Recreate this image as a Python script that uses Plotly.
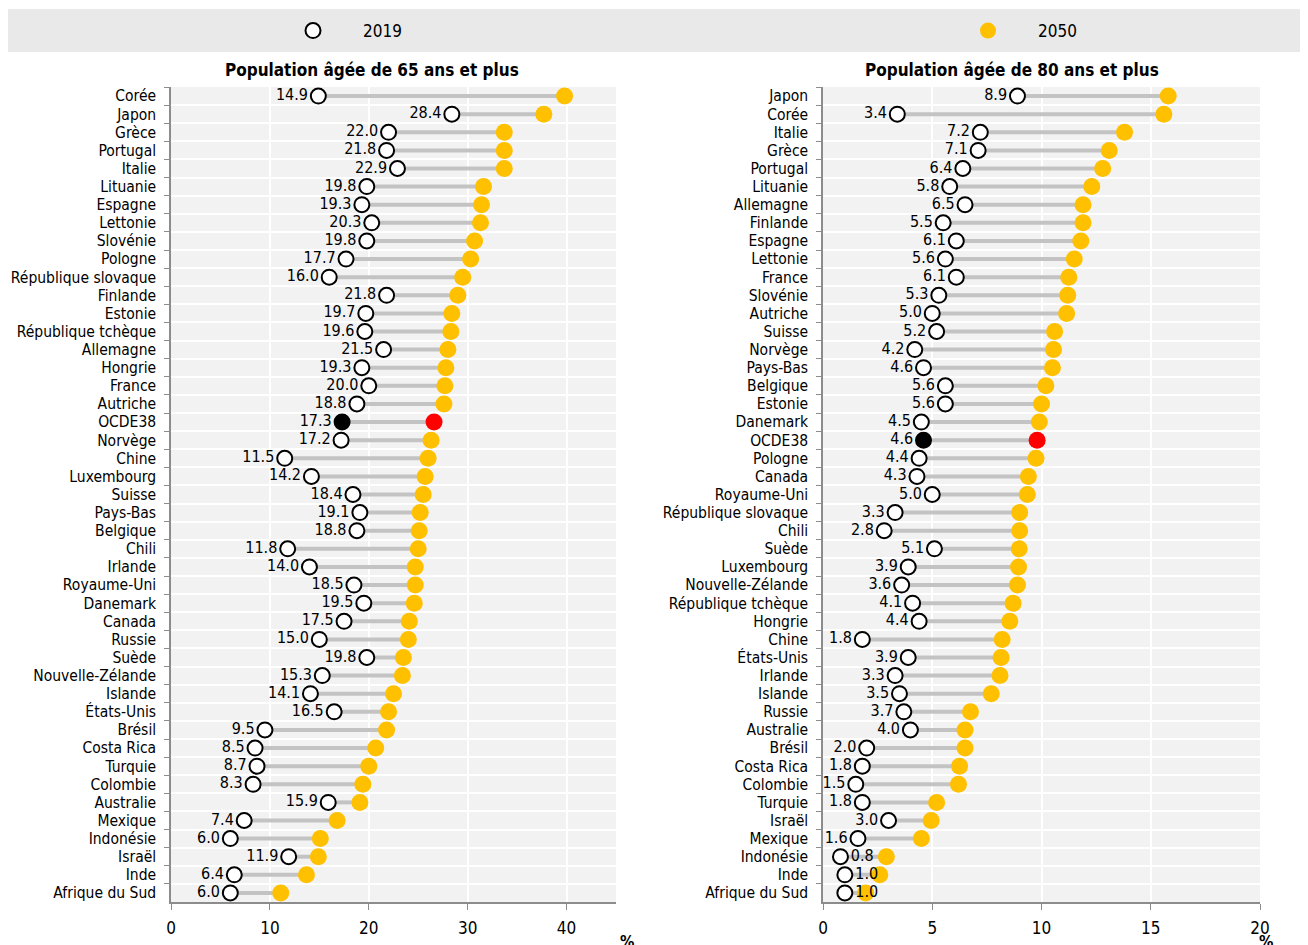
import plotly.graph_objects as go

# ---------------- data ----------------
countries_65 = ["Corée", "Japon", "Grèce", "Portugal", "Italie", "Lituanie", "Espagne", "Lettonie",
                "Slovénie", "Pologne", "République slovaque", "Finlande", "Estonie", "République tchèque",
                "Allemagne", "Hongrie", "France", "Autriche", "OCDE38", "Norvège", "Chine", "Luxembourg",
                "Suisse", "Pays-Bas", "Belgique", "Chili", "Irlande", "Royaume-Uni", "Danemark", "Canada",
                "Russie", "Suède", "Nouvelle-Zélande", "Islande", "États-Unis", "Brésil", "Costa Rica",
                "Turquie", "Colombie", "Australie", "Mexique", "Indonésie", "Israël", "Inde", "Afrique du Sud"]
v2019_65 = [14.9, 28.4, 22.0, 21.8, 22.9, 19.8, 19.3, 20.3, 19.8, 17.7, 16.0, 21.8, 19.7, 19.6,
            21.5, 19.3, 20.0, 18.8, 17.3, 17.2, 11.5, 14.2, 18.4, 19.1, 18.8, 11.8, 14.0, 18.5, 19.5, 17.5,
            15.0, 19.8, 15.3, 14.1, 16.5, 9.5, 8.5, 8.7, 8.3, 15.9, 7.4, 6.0, 11.9, 6.4, 6.0]
v2050_65 = [39.8, 37.7, 33.7, 33.7, 33.7, 31.6, 31.4, 31.3, 30.7, 30.3, 29.5, 29.0, 28.4, 28.3,
            28.0, 27.8, 27.7, 27.6, 26.6, 26.3, 26.0, 25.7, 25.5, 25.2, 25.1, 25.0, 24.7, 24.7, 24.6, 24.1,
            24.0, 23.5, 23.4, 22.5, 22.0, 21.8, 20.7, 20.0, 19.4, 19.1, 16.8, 15.1, 14.9, 13.7, 11.1]

countries_80 = ["Japon", "Corée", "Italie", "Grèce", "Portugal", "Lituanie", "Allemagne", "Finlande",
                "Espagne", "Lettonie", "France", "Slovénie", "Autriche", "Suisse", "Norvège", "Pays-Bas",
                "Belgique", "Estonie", "Danemark", "OCDE38", "Pologne", "Canada", "Royaume-Uni",
                "République slovaque", "Chili", "Suède", "Luxembourg", "Nouvelle-Zélande", "République tchèque",
                "Hongrie", "Chine", "États-Unis", "Irlande", "Islande", "Russie", "Australie", "Brésil",
                "Costa Rica", "Colombie", "Turquie", "Israël", "Mexique", "Indonésie", "Inde", "Afrique du Sud"]
v2019_80 = [8.9, 3.4, 7.2, 7.1, 6.4, 5.8, 6.5, 5.5, 6.1, 5.6, 6.1, 5.3, 5.0, 5.2, 4.2, 4.6,
            5.6, 5.6, 4.5, 4.6, 4.4, 4.3, 5.0, 3.3, 2.8, 5.1, 3.9, 3.6, 4.1, 4.4, 1.8, 3.9, 3.3,
            3.5, 3.7, 4.0, 2.0, 1.8, 1.5, 1.8, 3.0, 1.6, 0.8, 1.0, 1.0]
v2050_80 = [15.8, 15.6, 13.8, 13.1, 12.8, 12.3, 11.9, 11.9, 11.8, 11.5, 11.25, 11.2, 11.15, 10.6, 10.55, 10.5,
            10.2, 10.0, 9.9, 9.8, 9.75, 9.4, 9.35, 9.0, 9.0, 8.98, 8.95, 8.9, 8.7, 8.55, 8.2, 8.15, 8.1,
            7.7, 6.75, 6.5, 6.5, 6.25, 6.2, 5.2, 4.95, 4.5, 2.9, 2.6, 1.95]

xticks_65 = [0, 10, 20, 30, 40]
xticks_80 = [0, 5, 10, 15, 20]
xmax_65 = 45
xmax_80 = 20
panel_titles = ["Population âgée de 65 ans et plus", "Population âgée de 80 ans et plus"]
series_names = ["2019", "2050"]
unit_label = "%"
oecd_label = "OCDE38"

# ---------------- style ----------------
OFF = 8                      # page body margin
W, H = 1308 - OFF, 945 - OFF
FONT = "DejaVu Sans Condensed, Liberation Sans Narrow, Arial Narrow, Liberation Sans, sans-serif"
GOLD = "#ffc000"
RED = "#ff0000"
LINEGRAY = "#c3c3c3"
AXGRAY = "#8c8c8c"


def px_x(p):
    return (p - OFF) / W


def px_y(p):
    return 1 - (p - OFF) / H


fig = go.Figure()


def add_panel(cats, a, b, xa, ya, xmax, show_legend):
    lx, ly = [], []
    for c, s, e in zip(cats, a, b):
        lx += [s, e, None]
        ly += [c, c, None]
    fig.add_trace(go.Scatter(x=lx, y=ly, mode="lines", line=dict(color=LINEGRAY, width=4),
                             xaxis=xa, yaxis=ya, showlegend=False, hoverinfo="skip"))
    col2050 = [RED if c == oecd_label else GOLD for c in cats]
    fig.add_trace(go.Scatter(x=b, y=cats, mode="markers", name=series_names[1], legend="legend2",
                             marker=dict(color=col2050, size=17, line=dict(width=0)),
                             xaxis=xa, yaxis=ya, showlegend=show_legend))
    col2019 = ["#000000" if c == oecd_label else "#ffffff" for c in cats]
    pos = ["middle right" if v / xmax < 0.06 else "middle left" for v in a]
    fig.add_trace(go.Scatter(x=a, y=cats, mode="markers+text", name=series_names[0], legend="legend",
                             text=[f"{v:.1f}" for v in a], textposition=pos,
                             textfont=dict(family=FONT, size=16, color="#000000"),
                             marker=dict(color=col2019, size=15, line=dict(color="#000000", width=2)),
                             xaxis=xa, yaxis=ya, showlegend=show_legend))


add_panel(countries_65, v2019_65, v2050_65, "x", "y", xmax_65, True)
add_panel(countries_80, v2019_80, v2050_80, "x2", "y2", xmax_80, False)

ydom = [px_y(902), px_y(87)]

xcommon = dict(showgrid=True, gridcolor="#ffffff", gridwidth=2, zeroline=False, showline=True,
               linecolor=AXGRAY, linewidth=1.5, ticks="outside", ticklen=6, tickcolor=AXGRAY,
               ticklabelstandoff=4,
               tickfont=dict(family=FONT, size=17, color="#000000"), fixedrange=True,
               automargin=False)
ycommon = dict(type="category", categoryorder="array", range=[44.5, -0.5], tickson="boundaries",
               tickmode="linear", tick0=0, dtick=1,
               showgrid=True, gridcolor="#ffffff", gridwidth=2, showline=True, linecolor=AXGRAY,
               linewidth=1.5, ticks="outside", ticklen=5, tickcolor=AXGRAY, ticklabelstandoff=10,
               tickfont=dict(family=FONT, size=15.5, color="#000000"), fixedrange=True, automargin=False)

legcommon = dict(orientation="h", xanchor="left", y=px_y(31), yanchor="middle",
                 bgcolor="rgba(0,0,0,0)", itemwidth=90,
                 font=dict(family=FONT, size=17, color="#000000"), itemclick=False, itemdoubleclick=False)

fig.update_layout(
    width=W, height=H,
    margin=dict(l=0, r=0, t=0, b=0),
    paper_bgcolor="#ffffff",
    plot_bgcolor="#f2f2f2",
    font=dict(family=FONT, size=16, color="#000000"),
    xaxis=dict(domain=[px_x(171), px_x(616)], range=[0, xmax_65], tickvals=xticks_65, anchor="y", **xcommon),
    yaxis=dict(domain=ydom, anchor="x", categoryarray=countries_65, **ycommon),
    xaxis2=dict(domain=[px_x(823), px_x(1260)], range=[0, xmax_80], tickvals=xticks_80, anchor="y2", **xcommon),
    yaxis2=dict(domain=ydom, anchor="x2", categoryarray=countries_80, **ycommon),
    showlegend=True,
    legend=dict(x=px_x(263), **legcommon),
    legend2=dict(x=px_x(938), **legcommon),
    shapes=[dict(type="rect", xref="paper", yref="paper", x0=px_x(2), x1=1.02, y0=px_y(52), y1=px_y(9),
                 fillcolor="#e9e9e9", line=dict(width=0), layer="below")],
    annotations=[
        dict(text="<b>" + panel_titles[0] + "</b>", xref="paper", yref="paper", x=px_x(372), y=px_y(70),
             xanchor="center", yanchor="middle", showarrow=False, font=dict(family=FONT, size=17)),
        dict(text="<b>" + panel_titles[1] + "</b>", xref="paper", yref="paper", x=px_x(1012), y=px_y(70),
             xanchor="center", yanchor="middle", showarrow=False, font=dict(family=FONT, size=17)),
        dict(text="<b>" + unit_label + "</b>", xref="paper", yref="paper", x=px_x(627), y=px_y(930),
             xanchor="center", yanchor="top", showarrow=False, font=dict(family=FONT, size=16)),
        dict(text="<b>" + unit_label + "</b>", xref="paper", yref="paper", x=px_x(1266), y=px_y(930),
             xanchor="center", yanchor="top", showarrow=False, font=dict(family=FONT, size=16)),
    ],
)

fig.write_html("out.html")
